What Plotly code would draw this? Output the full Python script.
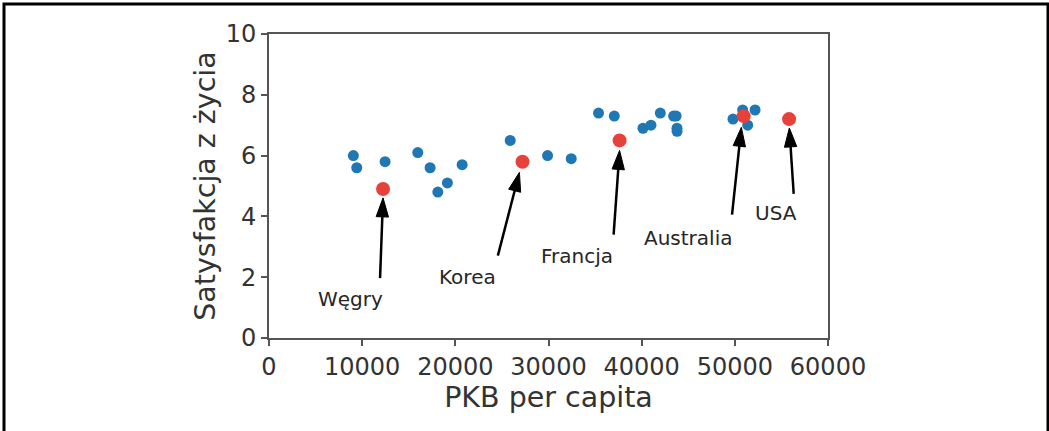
import plotly.graph_objects as go

# ---- data ----
gdp_other = [9055, 9420, 12460, 15970, 17290, 18120, 19150, 20730, 25890, 29900,
             32440, 35370, 37060, 40140, 41000, 42000, 43430, 43700, 43790, 43800,
             49800, 50840, 51380, 52170]
sat_other = [6.0, 5.6, 5.8, 6.1, 5.6, 4.8, 5.1, 5.7, 6.5, 6.0,
             5.9, 7.4, 7.3, 6.9, 7.0, 7.4, 7.3, 7.3, 6.9, 6.8,
             7.2, 7.5, 7.0, 7.5]

countries = ["Węgry", "Korea", "Francja", "Australia", "USA"]
gdp_sel = [12240, 27210, 37630, 50950, 55820]
sat_sel = [4.9, 5.8, 6.5, 7.3, 7.2]

# text anchor (left, baseline) positions
text_x = [5000, 18000, 29000, 40000, 52000]
text_y = [1.0, 1.7, 2.4, 3.0, 3.8]

# arrow tails and tips
tail_x = [11920, 24565, 36990, 49700, 56320]
tail_y = [1.97, 2.71, 3.40, 4.06, 4.74]
tip_x = [12240, 26880, 37630, 50700, 55850]
tip_y = [4.61, 5.45, 6.17, 6.93, 6.91]

x_ticks = [0, 10000, 20000, 30000, 40000, 50000, 60000]
y_ticks = [0, 2, 4, 6, 8, 10]

# ---- figure ----
W, H = 1049, 431
ML, MR, MT, MB = 269, 221, 34, 93
PW, PH = W - ML - MR, H - MT - MB

fig = go.Figure()

fig.add_trace(go.Scatter(x=gdp_other, y=sat_other, mode="markers",
                         marker=dict(color="#1f77b4", size=11),
                         showlegend=False, hoverinfo="skip"))
fig.add_trace(go.Scatter(x=gdp_sel, y=sat_sel, mode="markers",
                         marker=dict(color="#e8413c", size=14),
                         showlegend=False, hoverinfo="skip"))

for i in range(len(countries)):
    fig.add_trace(go.Scatter(
        x=[tail_x[i], tip_x[i]], y=[tail_y[i], tip_y[i]],
        mode="lines+markers",
        line=dict(color="black", width=2.5),
        marker=dict(symbol="arrow", size=[0, 20], angleref="previous",
                    color="black", opacity=1, line=dict(width=1, color="black")),
        opacity=1,
        showlegend=False, hoverinfo="skip"))
    fig.add_annotation(x=text_x[i], y=text_y[i], text=countries[i],
                       showarrow=False, xanchor="left", yanchor="bottom",
                       yshift=-5, font=dict(size=20, color="#262626"))

axis_common = dict(showline=True, linecolor="#555555", linewidth=2, mirror=True,
                   ticks="outside", ticklen=6, tickwidth=2, tickcolor="#555555",
                   showgrid=False, zeroline=False,
                   tickfont=dict(size=24, color="#333333"))

fig.update_xaxes(range=[0, 60000], tickvals=x_ticks,
                 ticktext=[str(v) for v in x_ticks],
                 title=dict(text="PKB per capita", font=dict(size=28.5, color="#333333"),
                            standoff=5),
                 **axis_common)
fig.update_yaxes(range=[0, 10], tickvals=y_ticks,
                 ticktext=[str(v) for v in y_ticks],
                 title=dict(text="Satysfakcja z życia", font=dict(size=28.5, color="#333333"),
                            standoff=2),
                 **axis_common)

# outer frame around the picture
fig.add_shape(type="rect", xref="paper", yref="paper",
              x0=(4 - ML) / PW, x1=(1048 - ML) / PW,
              y0=(MT + PH - 436) / PH, y1=(MT + PH - 4) / PH,
              line=dict(color="black", width=3), layer="above")

fig.update_layout(width=W, height=H,
                  margin=dict(l=ML, r=MR, t=MT, b=MB),
                  paper_bgcolor="white", plot_bgcolor="white",
                  font=dict(family="DejaVu Sans"))

fig.write_html("out.html", config={"displayModeBar": False},
               post_script="document.body.style.margin='0';document.body.style.overflow='hidden';")
